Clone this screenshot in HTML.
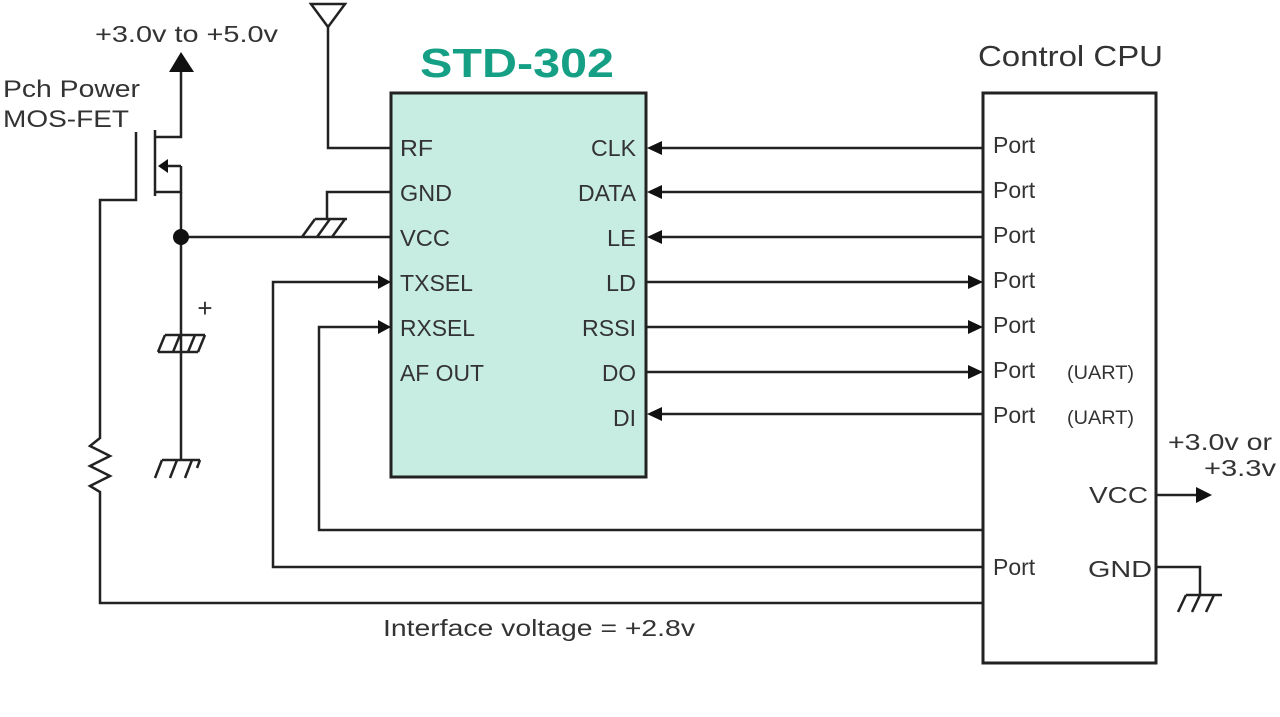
<!DOCTYPE html>
<html><head><meta charset="utf-8"><style>
html,body{margin:0;padding:0;background:#fff;}
svg{display:block;}
text{font-family:"Liberation Sans",Arial,sans-serif;fill:#333;}
</style></head><body>
<svg width="1280" height="717" viewBox="0 0 1280 717" xmlns="http://www.w3.org/2000/svg">
<g stroke="#222" stroke-width="2.5" fill="none">
<!-- STD box -->
<rect x="391" y="93" width="255" height="384" fill="#c7ede3" stroke="#222" stroke-width="3"/>
<!-- CPU box -->
<rect x="983" y="93" width="173" height="570" fill="#fff" stroke="#222" stroke-width="3"/>
<!-- antenna -->
<path d="M311 4 L345 4 L328 27 Z"/>
<path d="M328 27 L328 148 L391 148"/>
<!-- GND to ground hatch -->
<path d="M391 192 L327 192 L327 219"/>
<path d="M315 219 L347 219 M315 219 L302 237 M330 219 L317 237 M345 219 L332 237"/>
<!-- VCC line -->
<path d="M181 237 L391 237"/>
<!-- MOSFET -->
<path d="M181 70 L181 137 L155 137"/>
<path d="M155 130 L155 196"/>
<path d="M181 166 L162 166"/>
<path d="M155 192 L181 192 L181 166"/>
<path d="M181 192 L181 460"/>
<path d="M136 132 L136 200 L100 200 L100 430"/>
<!-- resistor -->
<path d="M100 430 L100 438 L90 446 L110 456 L90 466 L110 476 L90 486 L100 492 L100 603 L983 603"/>
<!-- capacitor -->
<path d="M165 335 L205 335 M158 352 L198 352 M165 335 L158 352 M180 335 L173 352 M195 335 L188 352 M205 335 L198 352" stroke-width="2.5"/>
<!-- ground under cap -->
<path d="M162 460 L200 460 M162 460 L155 478 M177 460 L170 478 M192 460 L185 478 M200 460 L197 468"/>
<!-- TXSEL / RXSEL -->
<path d="M983 567 L273 567 L273 282 L380 282"/>
<path d="M983 530 L319 530 L319 327 L380 327"/>
<!-- signal lines -->
<path d="M983 148 L660 148 M983 192 L660 192 M983 237 L660 237 M983 414 L660 414"/>
<path d="M646 282 L970 282 M646 327 L970 327 M646 372 L970 372"/>
<!-- CPU VCC/GND -->
<path d="M1156 495 L1198 495"/>
<path d="M1156 567 L1200 567 L1200 595"/>
<path d="M1186 595 L1222 595 M1186 595 L1178 612 M1200 595 L1192 612 M1214 595 L1206 612"/>
</g>
<g fill="#111">
<circle cx="181" cy="237" r="8"/>
<path d="M169 72 L194 72 L181 52 Z"/>
<path d="M158 166 L168 159 L168 173 Z"/>
<path d="M378 275 L391 282 L378 289 Z"/>
<path d="M378 320 L391 327 L378 334 Z"/>
<path d="M647 148 L662 141 L662 155 Z"/>
<path d="M647 192 L662 185 L662 199 Z"/>
<path d="M647 237 L662 230 L662 244 Z"/>
<path d="M647 414 L662 407 L662 421 Z"/>
<path d="M983 282 L968 275 L968 289 Z"/>
<path d="M983 327 L968 320 L968 334 Z"/>
<path d="M983 372 L968 365 L968 379 Z"/>
<path d="M1212 495 L1196 487 L1196 503 Z"/>
</g>
<!-- labels -->
<text x="517" y="77" text-anchor="middle" font-size="41" font-weight="bold" style="fill:#15a085" textLength="194" lengthAdjust="spacingAndGlyphs">STD-302</text>
<text x="978" y="66" font-size="29" textLength="185" lengthAdjust="spacingAndGlyphs">Control CPU</text>
<text x="95" y="42" font-size="23" textLength="183" lengthAdjust="spacingAndGlyphs">+3.0v to +5.0v</text>
<text x="3" y="97" font-size="24" textLength="137" lengthAdjust="spacingAndGlyphs">Pch Power</text>
<text x="3" y="127" font-size="24" textLength="126" lengthAdjust="spacingAndGlyphs">MOS-FET</text>
<text x="205" y="317" font-size="26" text-anchor="middle">+</text>
<text x="383" y="636" font-size="23" textLength="312" lengthAdjust="spacingAndGlyphs">Interface voltage = +2.8v</text>
<g font-size="23">
<text x="400" y="156" textLength="33" lengthAdjust="spacingAndGlyphs">RF</text>
<text x="400" y="201" textLength="52" lengthAdjust="spacingAndGlyphs">GND</text>
<text x="400" y="246" textLength="50" lengthAdjust="spacingAndGlyphs">VCC</text>
<text x="400" y="291" textLength="73" lengthAdjust="spacingAndGlyphs">TXSEL</text>
<text x="400" y="336" textLength="75" lengthAdjust="spacingAndGlyphs">RXSEL</text>
<text x="400" y="381" textLength="84" lengthAdjust="spacingAndGlyphs">AF OUT</text>
<text x="636" y="156" text-anchor="end" textLength="45" lengthAdjust="spacingAndGlyphs">CLK</text>
<text x="636" y="201" text-anchor="end" textLength="58" lengthAdjust="spacingAndGlyphs">DATA</text>
<text x="636" y="246" text-anchor="end" textLength="29" lengthAdjust="spacingAndGlyphs">LE</text>
<text x="636" y="291" text-anchor="end" textLength="30" lengthAdjust="spacingAndGlyphs">LD</text>
<text x="636" y="336" text-anchor="end" textLength="54" lengthAdjust="spacingAndGlyphs">RSSI</text>
<text x="636" y="381" text-anchor="end" textLength="34" lengthAdjust="spacingAndGlyphs">DO</text>
<text x="636" y="426" text-anchor="end" textLength="23" lengthAdjust="spacingAndGlyphs">DI</text>
<text x="993" y="153">Port</text>
<text x="993" y="198">Port</text>
<text x="993" y="243">Port</text>
<text x="993" y="288">Port</text>
<text x="993" y="333">Port</text>
<text x="993" y="378">Port</text>
<text x="993" y="423">Port</text>
<text x="993" y="575">Port</text>
<text x="1148" y="503" text-anchor="end" textLength="59" lengthAdjust="spacingAndGlyphs">VCC</text>
<text x="1152" y="577" text-anchor="end" textLength="64" lengthAdjust="spacingAndGlyphs">GND</text>
<text x="1168" y="450" textLength="104" lengthAdjust="spacingAndGlyphs">+3.0v or</text>
<text x="1276" y="476" text-anchor="end" textLength="72" lengthAdjust="spacingAndGlyphs">+3.3v</text>
</g>
<g font-size="19">
<text x="1067" y="379" textLength="67" lengthAdjust="spacingAndGlyphs">(UART)</text>
<text x="1067" y="424" textLength="67" lengthAdjust="spacingAndGlyphs">(UART)</text>
</g>
</svg>
</body></html>
